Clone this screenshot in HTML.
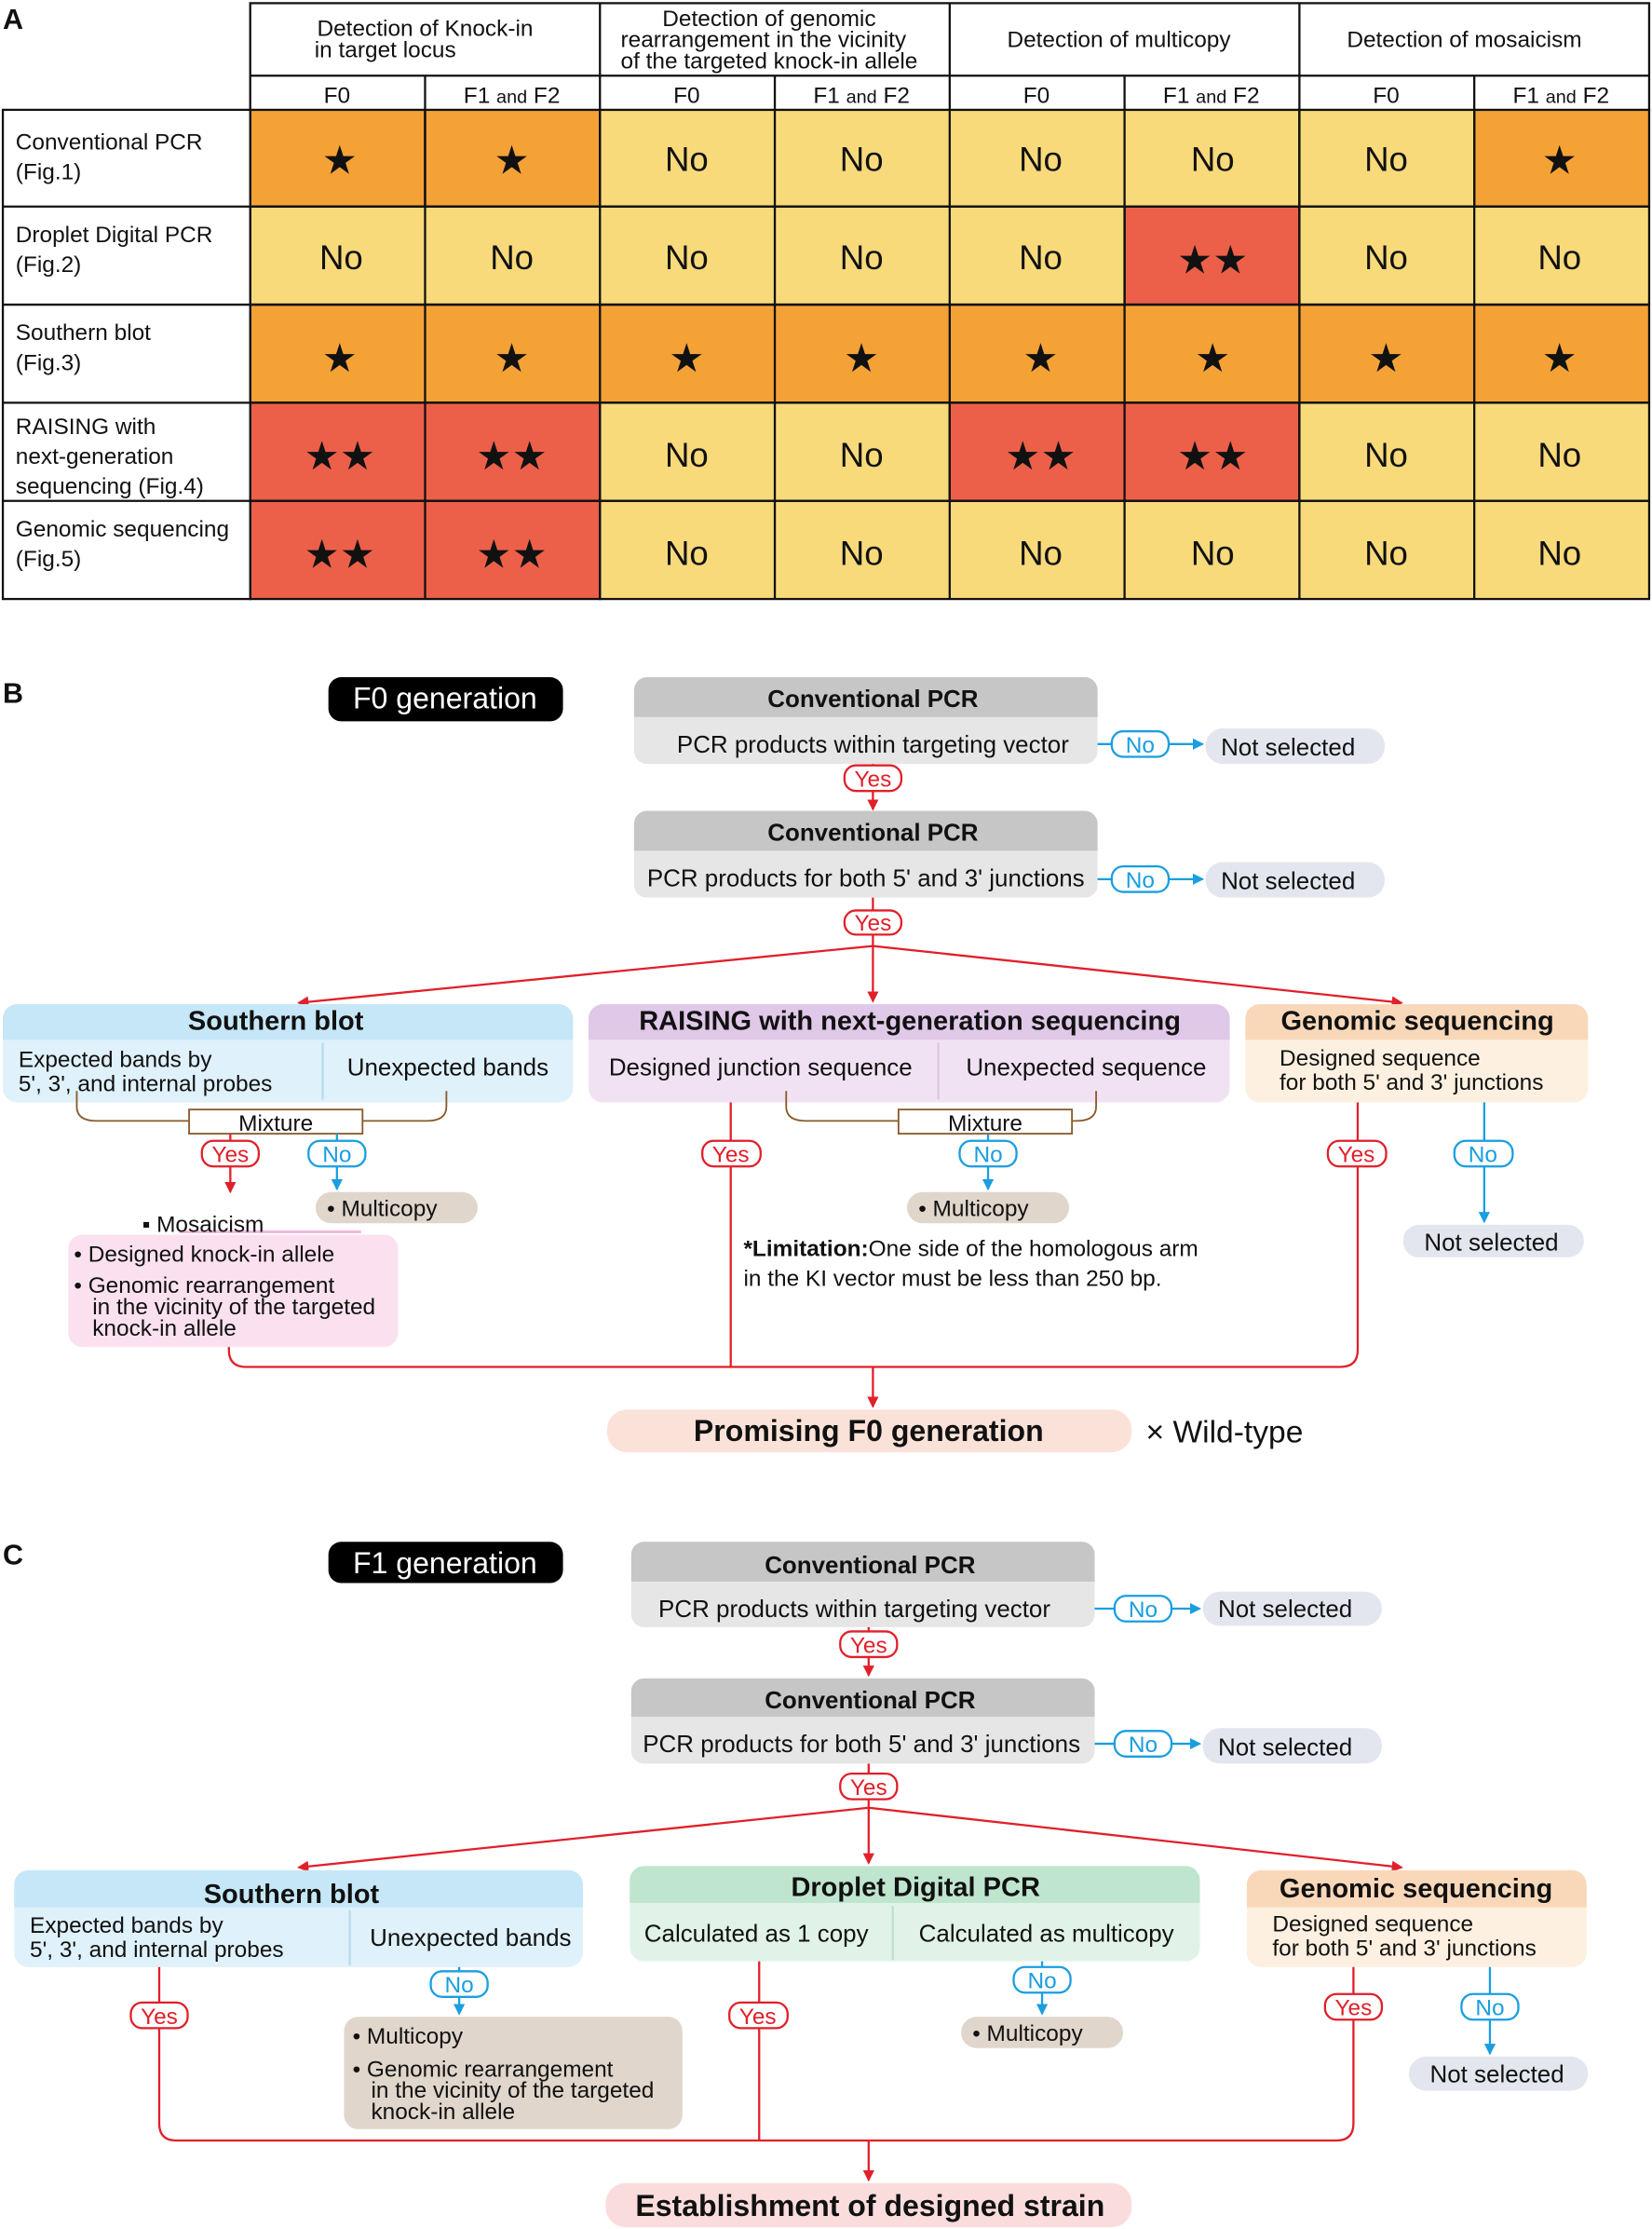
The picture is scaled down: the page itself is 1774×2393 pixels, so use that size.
<!DOCTYPE html>
<html><head><meta charset="utf-8"><style>
html,body{margin:0;padding:0;background:#fff}
svg{display:block}
text{font-family:"Liberation Sans Narrow","Liberation Sans",sans-serif;fill:#111}
.b{font-weight:bold}
.st{font-family:"DejaVu Sans",sans-serif;font-size:28px}
</style></head><body>
<svg width="1774" height="2393" viewBox="0 0 1162 1567" xmlns="http://www.w3.org/2000/svg">
<defs>
<marker id="ar" markerWidth="8" markerHeight="8" refX="7" refY="4" orient="auto" markerUnits="userSpaceOnUse"><path d="M0,0 L8,4 L0,8 z" fill="#e0202a"/></marker>
<marker id="ab" markerWidth="8" markerHeight="8" refX="7" refY="4" orient="auto" markerUnits="userSpaceOnUse"><path d="M0,0 L8,4 L0,8 z" fill="#1a9ee0"/></marker>
</defs>
<!-- ===== A ===== -->
<text x="2" y="20" class="b" font-size="20">A</text>
<g stroke="#111" stroke-width="1.5">
<rect x="176" y="77" width="123" height="68" fill="#f4a236"/><rect x="299" y="77" width="123" height="68" fill="#f4a236"/>
<rect x="422" y="77" width="492" height="68" fill="#f8da7b"/><rect x="914" y="77" width="123" height="68" fill="#f8da7b"/><rect x="1037" y="77" width="123" height="68" fill="#f4a236"/>
<rect x="176" y="145" width="615" height="69" fill="#f8da7b"/><rect x="791" y="145" width="123" height="69" fill="#ec604a"/><rect x="914" y="145" width="246" height="69" fill="#f8da7b"/>
<rect x="176" y="214" width="984" height="69" fill="#f4a236"/>
<rect x="176" y="283" width="246" height="69" fill="#ec604a"/><rect x="422" y="283" width="246" height="69" fill="#f8da7b"/><rect x="668" y="283" width="246" height="69" fill="#ec604a"/><rect x="914" y="283" width="246" height="69" fill="#f8da7b"/>
<rect x="176" y="352" width="246" height="69" fill="#ec604a"/><rect x="422" y="352" width="738" height="69" fill="#f8da7b"/>
<rect x="2" y="77" width="174" height="344" fill="#fff"/>
<rect x="176" y="2" width="984" height="75" fill="#fff"/>
<path d="M2,145H1160M2,214H1160M2,283H1160M2,352H1160M176,53H1160" fill="none"/>
<path d="M299,53V421M422,2V421M545,53V421M668,2V421M791,53V421M914,2V421M1037,53V421" fill="none"/>
</g>
<g font-size="16" text-anchor="middle">
<text x="299" y="25">Detection of Knock-in</text><text x="271" y="40">in target locus</text>
<text x="541" y="18">Detection of genomic</text><text x="537" y="33">rearrangement in the vicinity</text><text x="541" y="48">of the targeted knock-in allele</text>
<text x="787" y="33">Detection of multicopy</text>
<text x="1030" y="33">Detection of mosaicism</text>
</g>
<g font-size="16" text-anchor="middle">
<text x="237" y="72">F0</text><text x="360" y="72">F1 <tspan font-size="13">and</tspan> F2</text>
<text x="483" y="72">F0</text><text x="606" y="72">F1 <tspan font-size="13">and</tspan> F2</text>
<text x="729" y="72">F0</text><text x="852" y="72">F1 <tspan font-size="13">and</tspan> F2</text>
<text x="975" y="72">F0</text><text x="1098" y="72">F1 <tspan font-size="13">and</tspan> F2</text>
</g>
<g font-size="16">
<text x="11" y="105">Conventional PCR</text><text x="11" y="126">(Fig.1)</text>
<text x="11" y="170">Droplet Digital PCR</text><text x="11" y="191">(Fig.2)</text>
<text x="11" y="239">Southern blot</text><text x="11" y="260">(Fig.3)</text>
<text x="11" y="305">RAISING with</text><text x="11" y="326">next-generation</text><text x="11" y="347">sequencing (Fig.4)</text>
<text x="11" y="377">Genomic sequencing</text><text x="11" y="398">(Fig.5)</text>
</g>
<g font-size="24" text-anchor="middle">
<text x="483" y="120">No</text><text x="606" y="120">No</text><text x="732" y="120">No</text><text x="853" y="120">No</text><text x="975" y="120">No</text>
<text x="240" y="189">No</text><text x="360" y="189">No</text><text x="483" y="189">No</text><text x="606" y="189">No</text><text x="732" y="189">No</text><text x="975" y="189">No</text><text x="1097" y="189">No</text>
<text x="483" y="328">No</text><text x="606" y="328">No</text><text x="975" y="328">No</text><text x="1097" y="328">No</text>
<text x="483" y="397">No</text><text x="606" y="397">No</text><text x="732" y="397">No</text><text x="853" y="397">No</text><text x="975" y="397">No</text><text x="1097" y="397">No</text>
</g>
<g class="st" text-anchor="middle">
<text x="239" y="122">★</text><text x="360" y="122">★</text><text x="1097" y="122">★</text>
<text x="853" y="192">★★</text>
<text x="239" y="261">★</text><text x="360" y="261">★</text><text x="483" y="261">★</text><text x="606" y="261">★</text><text x="732" y="261">★</text><text x="853" y="261">★</text><text x="975" y="261">★</text><text x="1097" y="261">★</text>
<text x="239" y="330">★★</text><text x="360" y="330">★★</text><text x="732" y="330">★★</text><text x="853" y="330">★★</text>
<text x="239" y="399">★★</text><text x="360" y="399">★★</text>
</g>

<!-- ===== B ===== -->
<text x="2" y="494" class="b" font-size="20">B</text>
<rect x="231" y="476" width="165" height="31" rx="9" fill="#000"/>
<text x="313" y="498" font-size="21" text-anchor="middle" style="fill:#fff">F0 generation</text>

<rect x="446" y="476" width="326" height="61" rx="9" fill="#e6e6e6"/>
<path d="M446,504V485a9,9 0 0 1 9,-9H763a9,9 0 0 1 9,9V504z" fill="#c6c6c6"/>
<text x="614" y="497" class="b" font-size="17" text-anchor="middle">Conventional PCR</text>
<text x="614" y="529" font-size="17" text-anchor="middle">PCR products within targeting vector</text>
<line x1="772" y1="523" x2="846" y2="523" stroke="#1a9ee0" stroke-width="1.5" marker-end="url(#ab)"/>
<rect x="782" y="514" width="40" height="18" rx="8" fill="#fff" stroke="#1a9ee0" stroke-width="1.5"/>
<text x="802" y="529" font-size="16" text-anchor="middle" style="fill:#1a9ee0">No</text>
<rect x="848" y="512" width="126" height="25" rx="12" fill="#e4e6ef"/>
<text x="906" y="531" font-size="17" text-anchor="middle">Not selected</text>
<line x1="614" y1="537" x2="614" y2="569" stroke="#e0202a" stroke-width="1.5" marker-end="url(#ar)"/>
<rect x="594" y="538" width="40" height="18" rx="8" fill="#fff" stroke="#e0202a" stroke-width="1.5"/>
<text x="614" y="553" font-size="16" text-anchor="middle" style="fill:#e0202a">Yes</text>

<rect x="446" y="570" width="326" height="61" rx="9" fill="#e6e6e6"/>
<path d="M446,598V579a9,9 0 0 1 9,-9H763a9,9 0 0 1 9,9V598z" fill="#c6c6c6"/>
<text x="614" y="591" class="b" font-size="17" text-anchor="middle">Conventional PCR</text>
<text x="609" y="623" font-size="17" text-anchor="middle">PCR products for both 5' and 3' junctions</text>
<line x1="772" y1="618" x2="846" y2="618" stroke="#1a9ee0" stroke-width="1.5" marker-end="url(#ab)"/>
<rect x="782" y="609" width="40" height="18" rx="8" fill="#fff" stroke="#1a9ee0" stroke-width="1.5"/>
<text x="802" y="624" font-size="16" text-anchor="middle" style="fill:#1a9ee0">No</text>
<rect x="848" y="606" width="126" height="25" rx="12" fill="#e4e6ef"/>
<text x="906" y="625" font-size="17" text-anchor="middle">Not selected</text>
<line x1="614" y1="631" x2="614" y2="640" stroke="#e0202a" stroke-width="1.5"/>
<rect x="594" y="640" width="40" height="17" rx="8" fill="#fff" stroke="#e0202a" stroke-width="1.5"/>
<text x="614" y="654" font-size="16" text-anchor="middle" style="fill:#e0202a">Yes</text>
<g stroke="#e0202a" stroke-width="1.5" fill="none">
<line x1="614" y1="665" x2="210" y2="705" marker-end="url(#ar)"/>
<line x1="614" y1="657" x2="614" y2="704" marker-end="url(#ar)"/>
<line x1="614" y1="665" x2="986" y2="705" marker-end="url(#ar)"/>
</g>

<rect x="2" y="706" width="401" height="69" rx="10" fill="#dff1fa"/>
<path d="M2,731V716a10,10 0 0 1 10,-10H393a10,10 0 0 1 10,10V731z" fill="#c5e7f8"/>
<line x1="227" y1="733" x2="227" y2="773" stroke="#b6dbee" stroke-width="1.5"/>
<text x="194" y="724" class="b" font-size="19" text-anchor="middle">Southern blot</text>
<text x="13" y="750" font-size="16">Expected bands by</text>
<text x="13" y="767" font-size="16">5', 3', and internal probes</text>
<text x="315" y="756" font-size="17" text-anchor="middle">Unexpected bands</text>
<path d="M54,767V778q0,10 14,10H133M255,788H300q14,0 14,-10V767" stroke="#8a5a2b" stroke-width="1.2" fill="none"/>
<rect x="133" y="780" width="122" height="17" fill="#fff" stroke="#8a5a2b" stroke-width="1.2"/>
<text x="194" y="795" font-size="16" text-anchor="middle">Mixture</text>
<line x1="162" y1="797" x2="162" y2="838" stroke="#e0202a" stroke-width="1.5" marker-end="url(#ar)"/>
<rect x="142" y="802" width="40" height="18" rx="8" fill="#fff" stroke="#e0202a" stroke-width="1.5"/>
<text x="162" y="817" font-size="16" text-anchor="middle" style="fill:#e0202a">Yes</text>
<line x1="237" y1="797" x2="237" y2="836" stroke="#1a9ee0" stroke-width="1.5" marker-end="url(#ab)"/>
<rect x="217" y="802" width="40" height="18" rx="8" fill="#fff" stroke="#1a9ee0" stroke-width="1.5"/>
<text x="237" y="817" font-size="16" text-anchor="middle" style="fill:#1a9ee0">No</text>
<rect x="222" y="838" width="114" height="22" rx="11" fill="#e0d6cb"/>
<text x="230" y="855" font-size="16">• Multicopy</text>
<line x1="126" y1="866" x2="254" y2="866" stroke="#f3b7dc" stroke-width="2"/>
<text x="100" y="866" font-size="16">▪ Mosaicism</text>
<rect x="48" y="868" width="232" height="79" rx="10" fill="#fbe1ef"/>
<text x="52" y="887" font-size="16">• Designed knock-in allele</text>
<text x="52" y="909" font-size="16">• Genomic  rearrangement</text>
<text x="65" y="924" font-size="16">in the vicinity of the targeted</text>
<text x="65" y="939" font-size="16">knock-in allele</text>

<rect x="414" y="706" width="451" height="69" rx="10" fill="#f1e2f3"/>
<path d="M414,731V716a10,10 0 0 1 10,-10H855a10,10 0 0 1 10,10V731z" fill="#e0c8e8"/>
<line x1="660" y1="733" x2="660" y2="773" stroke="#dcc6e0" stroke-width="1.5"/>
<text x="640" y="724" class="b" font-size="19" text-anchor="middle">RAISING with next-generation sequencing</text>
<text x="535" y="756" font-size="17" text-anchor="middle">Designed junction sequence</text>
<text x="764" y="756" font-size="17" text-anchor="middle">Unexpected sequence</text>
<path d="M553,767V778q0,10 14,10H632M754,788H757q14,0 14,-10V767" stroke="#8a5a2b" stroke-width="1.2" fill="none"/>
<rect x="632" y="780" width="122" height="17" fill="#fff" stroke="#8a5a2b" stroke-width="1.2"/>
<text x="693" y="795" font-size="16" text-anchor="middle">Mixture</text>
<line x1="695" y1="797" x2="695" y2="836" stroke="#1a9ee0" stroke-width="1.5" marker-end="url(#ab)"/>
<rect x="675" y="802" width="40" height="18" rx="8" fill="#fff" stroke="#1a9ee0" stroke-width="1.5"/>
<text x="695" y="817" font-size="16" text-anchor="middle" style="fill:#1a9ee0">No</text>
<rect x="638" y="838" width="114" height="22" rx="11" fill="#e0d6cb"/>
<text x="646" y="855" font-size="16">• Multicopy</text>
<text x="523" y="883" font-size="16"><tspan class="b">*Limitation:</tspan>One side of the homologous arm</text>
<text x="523" y="904" font-size="16">in the KI vector must be less than 250 bp.</text>

<rect x="876" y="706" width="241" height="69" rx="10" fill="#fdf0e0"/>
<path d="M876,731V716a10,10 0 0 1 10,-10H1107a10,10 0 0 1 10,10V731z" fill="#f9d8ba"/>
<text x="997" y="724" class="b" font-size="19" text-anchor="middle">Genomic sequencing</text>
<text x="900" y="749" font-size="16">Designed sequence</text>
<text x="900" y="766" font-size="16">for both 5' and 3' junctions</text>
<line x1="1044" y1="775" x2="1044" y2="859" stroke="#1a9ee0" stroke-width="1.5" marker-end="url(#ab)"/>
<rect x="1023" y="802" width="41" height="18" rx="8" fill="#fff" stroke="#1a9ee0" stroke-width="1.5"/>
<text x="1043" y="817" font-size="16" text-anchor="middle" style="fill:#1a9ee0">No</text>
<rect x="987" y="861" width="127" height="23" rx="11" fill="#e4e6ef"/>
<text x="1049" y="879" font-size="17" text-anchor="middle">Not selected</text>

<g stroke="#e0202a" stroke-width="1.5" fill="none">
<path d="M161,947V949q0,12 12,12H943q12,0 12,-12V775"/>
<line x1="514" y1="775" x2="514" y2="961"/>
<line x1="614" y1="961" x2="614" y2="989" marker-end="url(#ar)"/>
</g>
<rect x="494" y="802" width="41" height="18" rx="8" fill="#fff" stroke="#e0202a" stroke-width="1.5"/>
<text x="514" y="817" font-size="16" text-anchor="middle" style="fill:#e0202a">Yes</text>
<rect x="934" y="802" width="41" height="18" rx="8" fill="#fff" stroke="#e0202a" stroke-width="1.5"/>
<text x="954" y="817" font-size="16" text-anchor="middle" style="fill:#e0202a">Yes</text>
<rect x="427" y="991" width="369" height="30" rx="14" fill="#fbe2d8"/>
<text x="611" y="1013" class="b" font-size="21" text-anchor="middle">Promising F0 generation</text>
<text x="806" y="1014" font-size="22">× Wild-type</text>

<!-- ===== C ===== -->
<text x="2" y="1100" class="b" font-size="20">C</text>
<rect x="231" y="1084" width="165" height="29" rx="9" fill="#000"/>
<text x="313" y="1106" font-size="21" text-anchor="middle" style="fill:#fff">F1 generation</text>

<rect x="444" y="1084" width="326" height="60" rx="9" fill="#e6e6e6"/>
<path d="M444,1112V1093a9,9 0 0 1 9,-9H761a9,9 0 0 1 9,9V1112z" fill="#c6c6c6"/>
<text x="612" y="1106" class="b" font-size="17" text-anchor="middle">Conventional PCR</text>
<text x="601" y="1137" font-size="17" text-anchor="middle">PCR products within targeting vector</text>
<line x1="770" y1="1131" x2="844" y2="1131" stroke="#1a9ee0" stroke-width="1.5" marker-end="url(#ab)"/>
<rect x="784" y="1122" width="40" height="18" rx="8" fill="#fff" stroke="#1a9ee0" stroke-width="1.5"/>
<text x="804" y="1137" font-size="16" text-anchor="middle" style="fill:#1a9ee0">No</text>
<rect x="846" y="1119" width="126" height="24" rx="12" fill="#e4e6ef"/>
<text x="904" y="1137" font-size="17" text-anchor="middle">Not selected</text>
<line x1="611" y1="1144" x2="611" y2="1178" stroke="#e0202a" stroke-width="1.5" marker-end="url(#ar)"/>
<rect x="591" y="1147" width="40" height="18" rx="8" fill="#fff" stroke="#e0202a" stroke-width="1.5"/>
<text x="611" y="1162" font-size="16" text-anchor="middle" style="fill:#e0202a">Yes</text>

<rect x="444" y="1180" width="326" height="60" rx="9" fill="#e6e6e6"/>
<path d="M444,1207V1189a9,9 0 0 1 9,-9H761a9,9 0 0 1 9,9V1207z" fill="#c6c6c6"/>
<text x="612" y="1201" class="b" font-size="17" text-anchor="middle">Conventional PCR</text>
<text x="606" y="1232" font-size="17" text-anchor="middle">PCR products for both 5' and 3' junctions</text>
<line x1="770" y1="1226" x2="844" y2="1226" stroke="#1a9ee0" stroke-width="1.5" marker-end="url(#ab)"/>
<rect x="784" y="1217" width="40" height="18" rx="8" fill="#fff" stroke="#1a9ee0" stroke-width="1.5"/>
<text x="804" y="1232" font-size="16" text-anchor="middle" style="fill:#1a9ee0">No</text>
<rect x="846" y="1215" width="126" height="25" rx="12" fill="#e4e6ef"/>
<text x="904" y="1234" font-size="17" text-anchor="middle">Not selected</text>
<line x1="611" y1="1240" x2="611" y2="1247" stroke="#e0202a" stroke-width="1.5"/>
<rect x="591" y="1247" width="40" height="18" rx="8" fill="#fff" stroke="#e0202a" stroke-width="1.5"/>
<text x="611" y="1262" font-size="16" text-anchor="middle" style="fill:#e0202a">Yes</text>
<g stroke="#e0202a" stroke-width="1.5" fill="none">
<line x1="611" y1="1271" x2="210" y2="1313" marker-end="url(#ar)"/>
<line x1="611" y1="1265" x2="611" y2="1310" marker-end="url(#ar)"/>
<line x1="611" y1="1271" x2="986" y2="1313" marker-end="url(#ar)"/>
</g>

<rect x="10" y="1315" width="400" height="68" rx="10" fill="#dff1fa"/>
<path d="M10,1341V1325a10,10 0 0 1 10,-10H400a10,10 0 0 1 10,10V1341z" fill="#c5e7f8"/>
<line x1="246" y1="1343" x2="246" y2="1382" stroke="#b6dbee" stroke-width="1.5"/>
<text x="205" y="1338" class="b" font-size="19" text-anchor="middle">Southern blot</text>
<text x="21" y="1359" font-size="16">Expected bands by</text>
<text x="21" y="1376" font-size="16">5', 3', and internal probes</text>
<text x="331" y="1368" font-size="17" text-anchor="middle">Unexpected bands</text>
<line x1="323" y1="1383" x2="323" y2="1416" stroke="#1a9ee0" stroke-width="1.5" marker-end="url(#ab)"/>
<rect x="303" y="1386" width="40" height="18" rx="8" fill="#fff" stroke="#1a9ee0" stroke-width="1.5"/>
<text x="323" y="1401" font-size="16" text-anchor="middle" style="fill:#1a9ee0">No</text>
<rect x="242" y="1418" width="238" height="79" rx="10" fill="#e0d6cb"/>
<text x="248" y="1437" font-size="16">• Multicopy</text>
<text x="248" y="1460" font-size="16">• Genomic  rearrangement</text>
<text x="261" y="1475" font-size="16">in the vicinity of the targeted</text>
<text x="261" y="1490" font-size="16">knock-in allele</text>

<rect x="443" y="1312" width="401" height="67" rx="10" fill="#e1f3e8"/>
<path d="M443,1338V1322a10,10 0 0 1 10,-10H834a10,10 0 0 1 10,10V1338z" fill="#bfe5cf"/>
<line x1="628" y1="1340" x2="628" y2="1378" stroke="#bfe0cc" stroke-width="1.5"/>
<text x="644" y="1333" class="b" font-size="19" text-anchor="middle">Droplet Digital PCR</text>
<text x="532" y="1365" font-size="17" text-anchor="middle">Calculated as 1 copy</text>
<text x="736" y="1365" font-size="17" text-anchor="middle">Calculated as multicopy</text>
<line x1="733" y1="1379" x2="733" y2="1416" stroke="#1a9ee0" stroke-width="1.5" marker-end="url(#ab)"/>
<rect x="713" y="1383" width="40" height="18" rx="8" fill="#fff" stroke="#1a9ee0" stroke-width="1.5"/>
<text x="733" y="1398" font-size="16" text-anchor="middle" style="fill:#1a9ee0">No</text>
<rect x="676" y="1418" width="114" height="22" rx="11" fill="#e0d6cb"/>
<text x="684" y="1435" font-size="16">• Multicopy</text>

<rect x="877" y="1315" width="239" height="68" rx="10" fill="#fdf0e0"/>
<path d="M877,1341V1325a10,10 0 0 1 10,-10H1106a10,10 0 0 1 10,10V1341z" fill="#f9d8ba"/>
<text x="996" y="1334" class="b" font-size="19" text-anchor="middle">Genomic sequencing</text>
<text x="895" y="1358" font-size="16">Designed sequence</text>
<text x="895" y="1375" font-size="16">for both 5' and 3' junctions</text>
<line x1="1048" y1="1383" x2="1048" y2="1444" stroke="#1a9ee0" stroke-width="1.5" marker-end="url(#ab)"/>
<rect x="1028" y="1402" width="40" height="18" rx="8" fill="#fff" stroke="#1a9ee0" stroke-width="1.5"/>
<text x="1048" y="1417" font-size="16" text-anchor="middle" style="fill:#1a9ee0">No</text>
<rect x="991" y="1446" width="126" height="24" rx="12" fill="#e4e6ef"/>
<text x="1053" y="1464" font-size="17" text-anchor="middle">Not selected</text>

<g stroke="#e0202a" stroke-width="1.5" fill="none">
<path d="M112,1383V1493q0,12 12,12H940q12,0 12,-12V1383"/>
<line x1="534" y1="1379" x2="534" y2="1505"/>
<line x1="611" y1="1505" x2="611" y2="1533" marker-end="url(#ar)"/>
</g>
<rect x="92" y="1408" width="40" height="18" rx="8" fill="#fff" stroke="#e0202a" stroke-width="1.5"/>
<text x="112" y="1423" font-size="16" text-anchor="middle" style="fill:#e0202a">Yes</text>
<rect x="513" y="1408" width="41" height="18" rx="8" fill="#fff" stroke="#e0202a" stroke-width="1.5"/>
<text x="533" y="1423" font-size="16" text-anchor="middle" style="fill:#e0202a">Yes</text>
<rect x="932" y="1402" width="40" height="18" rx="8" fill="#fff" stroke="#e0202a" stroke-width="1.5"/>
<text x="952" y="1417" font-size="16" text-anchor="middle" style="fill:#e0202a">Yes</text>
<rect x="426" y="1535" width="370" height="31" rx="14" fill="#fbdcdc"/>
<text x="612" y="1558" class="b" font-size="21" text-anchor="middle">Establishment of designed strain</text>
</svg>
</body></html>
